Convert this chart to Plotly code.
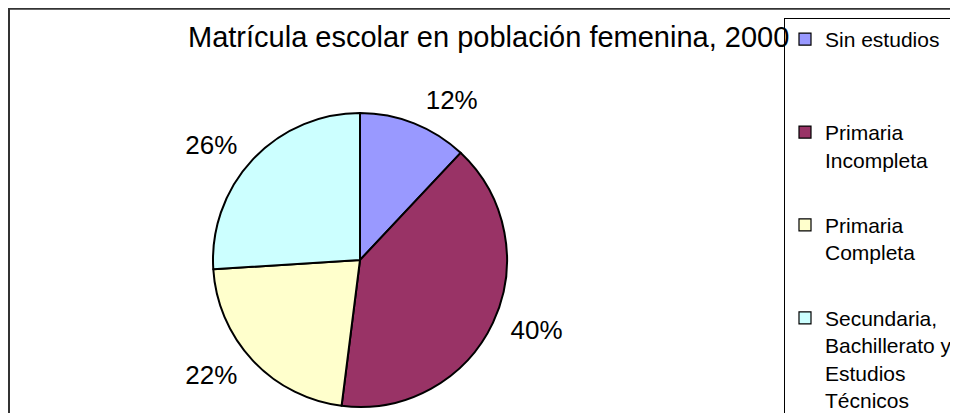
import plotly.graph_objects as go

# data
categories = ['Sin estudios', 'Primaria<br>Incompleta', 'Primaria<br>Completa',
              'Secundaria,<br>Bachillerato y<br>Estudios<br>Técnicos']
values = [12, 40, 22, 26]
colors = ['#9999FF', '#993366', '#FFFFCC', '#CCFFFF']
title = 'Matrícula escolar en población femenina, 2000'

W, H = 958, 413
# the page body adds an 8px offset, so positions below are in figure px
cx, cy, r = 352, 252, 147      # pie centre and radius
r_lab = 158                    # radius of the invisible pie that carries the labels


def pie_domain(radius):
    return dict(x=[(cx - radius) / W, (cx + radius) / W],
                y=[max(0, 1 - (cy + radius) / H), 1 - (cy - radius) / H])


fig = go.Figure()

# the visible pie
fig.add_trace(go.Pie(
    labels=categories,
    values=values,
    sort=False,
    direction='clockwise',
    rotation=0,
    marker=dict(colors=colors, line=dict(color='#000000', width=2)),
    textinfo='none',
    showlegend=False,
    domain=pie_domain(r),
    hoverinfo='label+percent',
))

# a slightly larger transparent pie, only used to push the % labels outwards
fig.add_trace(go.Pie(
    labels=categories,
    values=values,
    sort=False,
    direction='clockwise',
    rotation=0,
    marker=dict(colors=['rgba(0,0,0,0)'] * len(values),
                line=dict(width=0)),
    texttemplate='%{percent:.0%}',
    textposition='outside',
    outsidetextfont=dict(family='Arial, Liberation Sans', size=26, color='#000000'),
    showlegend=False,
    domain=pie_domain(r_lab),
    hoverinfo='skip',
))

# legend entries (padded to the same height so they are evenly spaced)
legend_lines = 3
for name, col in zip(categories, colors):
    n = name.count('<br>') + 1
    fig.add_trace(go.Scatter(
        x=[None], y=[None],
        mode='markers',
        name=name + '<br> ' * max(0, legend_lines - n),
        legendgroup=name,
        marker=dict(symbol='square', size=12, color=col,
                    line=dict(color='#000000', width=1.2)),
    ))

fig.update_layout(
    width=W,
    height=H,
    margin=dict(l=0, r=0, t=0, b=0, autoexpand=False),
    paper_bgcolor='#ffffff',
    plot_bgcolor='#ffffff',
    font=dict(family='Arial, Liberation Sans', color='#000000'),
    xaxis=dict(visible=False),
    yaxis=dict(visible=False),
    title=dict(
        text=title,
        x=180 / W, xanchor='left', xref='paper',
        y=1 - 29 / H, yanchor='middle', yref='paper',
        font=dict(size=29, color='#000000'),
    ),
    showlegend=True,
    legend=dict(
        x=776 / W, xanchor='left',
        y=1 - 10 / H, yanchor='top',
        valign='top',
        bgcolor='#ffffff',
        bordercolor='#000000',
        borderwidth=1,
        font=dict(size=21, color='#000000'),
        tracegroupgap=8,
        itemclick=False,
    ),
    shapes=[
        # chart frame (only top and left edges fall inside the picture)
        dict(type='line', xref='paper', yref='paper',
             x0=0, x1=1, y0=1 - 0.5 / H, y1=1 - 0.5 / H,
             line=dict(color='#333333', width=2.5)),
        dict(type='line', xref='paper', yref='paper',
             x0=1 / W, x1=1 / W, y0=1, y1=0,
             line=dict(color='#333333', width=2)),
    ],
)

fig.write_html('out.html')
